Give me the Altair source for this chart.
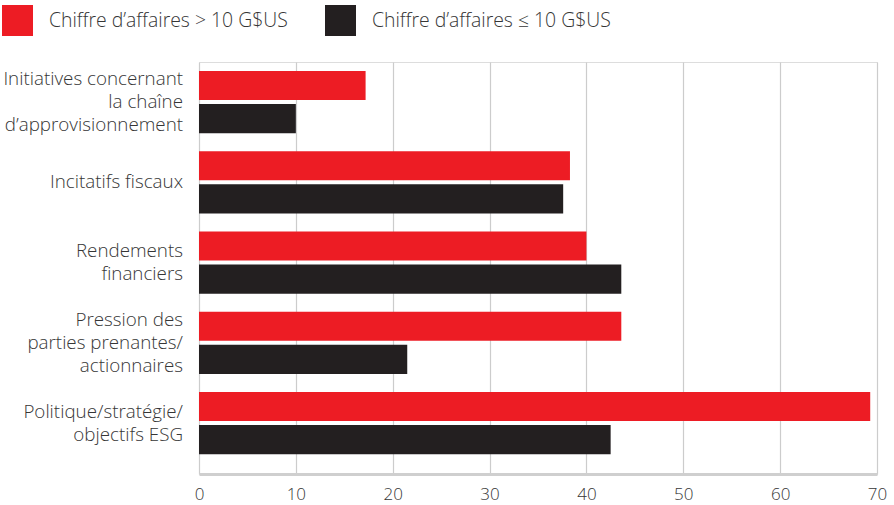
import altair as alt
import pandas as pd

categories = [
    "Initiatives concernant|la chaîne|d’approvisionnement",
    "Incitatifs fiscaux",
    "Rendements|financiers",
    "Pression des|parties prenantes/|actionnaires",
    "Politique/stratégie/|objectifs ESG",
]
series = ["Chiffre d’affaires > 10 G$US", "Chiffre d’affaires ≤ 10 G$US"]
large_values = [17.2, 38.3, 40.0, 43.6, 69.3]
small_values = [10.0, 37.6, 43.6, 21.5, 42.5]
x_ticks = [0, 10, 20, 30, 40, 50, 60, 70]
colors = ["#ED1C24", "#231F20"]

rows = []
for c, v in zip(categories, large_values):
    rows.append({"cat": c, "series": series[0], "value": v})
for c, v in zip(categories, small_values):
    rows.append({"cat": c, "series": series[1], "value": v})
df = pd.DataFrame(rows)

LINE_H = 23
line_rows = []
for c in categories:
    parts = c.split("|")
    n = len(parts)
    for i, p in enumerate(parts):
        line_rows.append({"cat": c, "line": p, "off": (i - (n - 1) / 2) * LINE_H})
lines_df = pd.DataFrame(line_rows)

FONT = "Open Sans"
TXT = "#363636"

y_scale = alt.Scale(paddingInner=0.224, paddingOuter=0.179, align=0.31)

bars = (
    alt.Chart(df)
    .mark_bar()
    .encode(
        x=alt.X(
            "value:Q",
            scale=alt.Scale(domain=[0, 70], nice=False, zero=True),
            axis=alt.Axis(
                values=x_ticks,
                title=None,
                ticks=False,
                grid=True,
                gridColor="#cccccc",
                gridWidth=1.2,
                domain=True,
                domainColor="#cfcfcf",
                domainWidth=3,
                labelFont=FONT,
                labelFontSize=17,
                labelFontWeight=300,
                labelColor=TXT,
                labelPadding=12,
                labelFlush=False,
            ),
        ),
        y=alt.Y(
            "cat:N",
            sort=categories,
            scale=y_scale,
            axis=alt.Axis(
                title=None,
                ticks=False,
                grid=False,
                labels=False,
                domain=True,
                domainColor="#cfcfcf",
                domainWidth=3,
            ),
        ),
        yOffset=alt.YOffset(
            "series:N",
            sort=series,
            scale=alt.Scale(paddingInner=0.12, paddingOuter=0),
        ),
        color=alt.Color(
            "series:N",
            sort=series,
            scale=alt.Scale(domain=series, range=colors),
            legend=alt.Legend(
                title=None,
                orient="none",
                legendX=-197,
                legendY=-57,
                direction="horizontal",
                symbolType="square",
                symbolSize=961,
                symbolStrokeWidth=0,
                symbolOpacity=1,
                labelFont=FONT,
                labelFontSize=19.4,
                labelFontWeight=300,
                labelColor=TXT,
                labelOffset=16,
                columnPadding=37,
                padding=0,
                labelLimit=400,
            ),
        ),
    )
)

offsets = sorted(set(lines_df["off"].tolist()))
text_layers = []
for o in offsets:
    t = (
        alt.Chart(lines_df)
        .transform_filter(f"datum.off == {o}")
        .mark_text(
            align="right",
            baseline="middle",
            dy=o,
            font=FONT,
            fontSize=18.8,
            fontWeight=300,
            color=TXT,
        )
        .encode(
            y=alt.Y("cat:N", sort=categories, scale=y_scale, axis=None),
            x=alt.value(-16),
            text="line:N",
        )
    )
    text_layers.append(t)

chart = (
    alt.layer(bars, *text_layers)
    .properties(
        width=678,
        height=412,
        autosize=alt.AutoSizeParams(type="none"),
        padding={"left": 199, "top": 62, "right": 17, "bottom": 31},
    )
    .configure_view(strokeWidth=0)
    .configure(background="white")
)

chart.save("out.html", embed_options={"renderer": "svg", "actions": False})
